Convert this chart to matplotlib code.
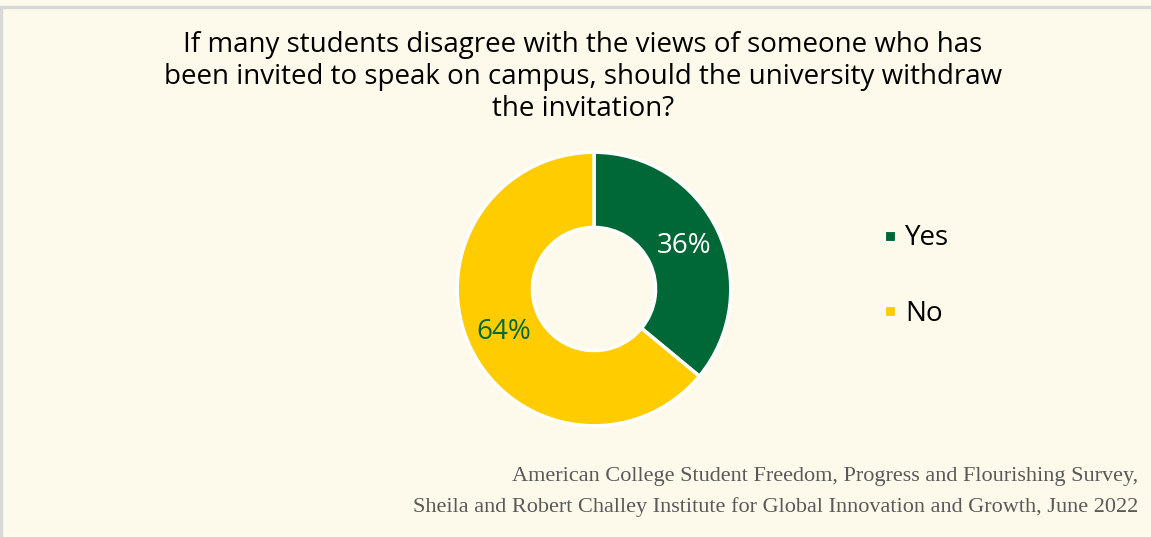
import matplotlib.pyplot as plt
from matplotlib.lines import Line2D
from matplotlib.patches import Rectangle

labels = ["Yes", "No"]
shares = [36, 64]
colors = ["#006837", "#FFCC00"]
label_colors = ["white", "#006837"]

title = ("If many students disagree with the views of someone who has\n"
         "been invited to speak on campus, should the university withdraw\n"
         "the invitation?")
source = ("American College Student Freedom, Progress and Flourishing Survey,\n"
          "Sheila and Robert Challey Institute for Global Innovation and Growth, June 2022")

bg = "#FEFAEB"
W, H = 1151, 537

fig = plt.figure(figsize=(W / 100, H / 100), dpi=100, facecolor=bg)

# thin grey frame round the card
fig.patches.append(Rectangle((1 / W, -0.01), 1.02, 1 - 2 / H, transform=fig.transFigure,
                             fill=False, edgecolor="#D9D9D9", linewidth=2.5))

# square axes centred on the donut
cx, cy, size = 594, H - 289, 290
ax = fig.add_axes([(cx - size / 2) / W, (cy - size / 2) / H, size / W, size / H])
ax.set_facecolor(bg)

wedges, _, autotexts = ax.pie(
    shares, colors=colors, startangle=90, counterclock=False,
    autopct="%d%%", pctdistance=0.73,
    wedgeprops=dict(width=0.55, edgecolor="white", linewidth=2.5),
    textprops=dict(fontfamily="Open Sans", fontsize=20),
)
for t, c in zip(autotexts, label_colors):
    t.set_color(c)
ax.set_xlim(-1.06, 1.06)
ax.set_ylim(-1.06, 1.06)
ax.set_aspect("equal")
ax.axis("off")

handles = [Line2D([], [], marker="s", linestyle="none", markersize=7,
                  markerfacecolor=c, markeredgecolor="white", markeredgewidth=0.8)
           for c in colors]
fig.legend(handles, labels, loc="center left",
           bbox_to_anchor=(858 / W, (H - 276) / H), frameon=False,
           prop=dict(family="Open Sans", size=20), labelspacing=1.7,
           handlelength=0.5, handletextpad=0.3)

fig.text(583 / W, (H - 77) / H, title, ha="center", va="center",
         fontfamily="Open Sans", fontsize=20, linespacing=1.17)

fig.text(1138 / W, (H - 492) / H, source, ha="right", va="center",
         fontfamily="Liberation Serif", fontsize=16, color="#595959", linespacing=1.75)

fig.savefig("out.png", dpi=100, facecolor=bg)
